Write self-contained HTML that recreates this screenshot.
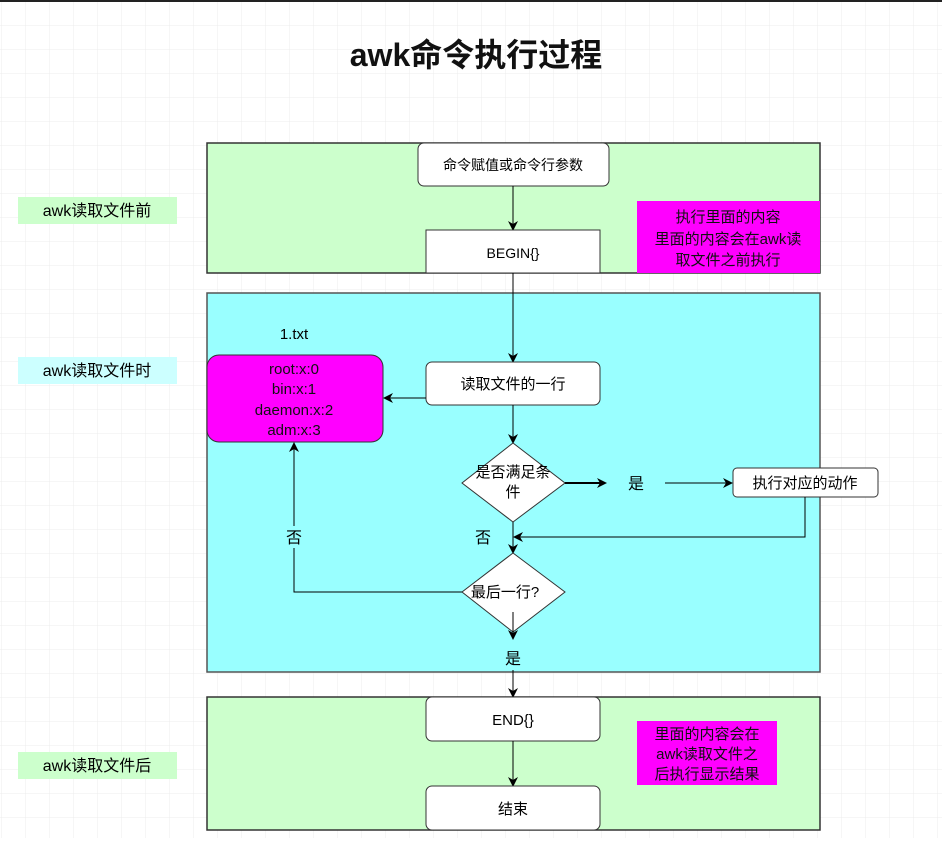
<!DOCTYPE html>
<html><head><meta charset="utf-8"><style>
body{margin:0;width:942px;height:838px;overflow:hidden;background:#fff;}
svg text{font-family:"Liberation Sans","Noto Sans CJK SC",sans-serif;}
</style></head><body>
<svg width="942" height="838" viewBox="0 0 942 838" xmlns="http://www.w3.org/2000/svg">
<defs>
<pattern id="g" width="24" height="24" patternUnits="userSpaceOnUse" x="1" y="1">
<path d="M24 0H0V24" fill="none" stroke="#ececec" stroke-width="1"/>
</pattern>
<marker id="a" markerWidth="10" markerHeight="10" refX="8" refY="5" orient="auto" markerUnits="userSpaceOnUse">
<path d="M0,0 L10,5 L0,10 L3,5 Z" fill="#000"/>
</marker>
</defs>
<rect width="942" height="838" fill="url(#g)"/>
<rect x="0" y="0" width="942" height="2" fill="#222"/>
<text x="476" y="66" font-size="32" font-weight="bold" text-anchor="middle" fill="#111">awk命令执行过程</text>

<rect x="18" y="197" width="159" height="27" fill="#ccffcc"/>
<text x="97" y="216" font-size="16" text-anchor="middle">awk读取文件前</text>
<rect x="18" y="357" width="159" height="27" fill="#ccffff"/>
<text x="97" y="376" font-size="16" text-anchor="middle">awk读取文件时</text>
<rect x="18" y="752" width="159" height="27" fill="#ccffcc"/>
<text x="97" y="771" font-size="16" text-anchor="middle">awk读取文件后</text>

<rect x="207" y="143" width="613" height="130" fill="#ccffcc" stroke="#333" stroke-width="1.5"/>
<rect x="207" y="293" width="613" height="379" fill="#99ffff" stroke="#555" stroke-width="1.5"/>
<rect x="207" y="697" width="613" height="133" fill="#ccffcc" stroke="#333" stroke-width="1.5"/>

<rect x="418" y="143" width="191" height="43" rx="6" fill="#fff" stroke="#333"/>
<text x="513" y="170" font-size="14" text-anchor="middle">命令赋值或命令行参数</text>
<line x1="513" y1="186" x2="513" y2="229" stroke="#000" marker-end="url(#a)"/>
<rect x="426" y="230" width="174" height="43" fill="#fff" stroke="#333"/>
<text x="513" y="258" font-size="14" text-anchor="middle">BEGIN{}</text>
<rect x="637" y="201" width="183" height="72" fill="#ff00ff"/>
<text font-size="15" text-anchor="middle" fill="#111"><tspan x="728" y="222">执行里面的内容</tspan><tspan x="728" y="244">里面的内容会在awk读</tspan><tspan x="728" y="265">取文件之前执行</tspan></text>

<line x1="513" y1="273" x2="513" y2="361" stroke="#000" marker-end="url(#a)"/>
<text x="294" y="339" font-size="15" text-anchor="middle">1.txt</text>
<rect x="207" y="355" width="176" height="87" rx="12" fill="#ff00ff" stroke="#333"/>
<text font-size="15" text-anchor="middle" fill="#111"><tspan x="294" y="374">root:x:0</tspan><tspan x="294" y="394">bin:x:1</tspan><tspan x="294" y="415">daemon:x:2</tspan><tspan x="294" y="435">adm:x:3</tspan></text>
<rect x="426" y="362" width="174" height="43" rx="6" fill="#fff" stroke="#333"/>
<text x="513" y="389" font-size="15" text-anchor="middle">读取文件的一行</text>
<line x1="426" y1="398" x2="385" y2="398" stroke="#000" marker-end="url(#a)"/>
<line x1="513" y1="405" x2="513" y2="442" stroke="#000" marker-end="url(#a)"/>

<polygon points="513,443 565,483 513,522 462,483" fill="#fff" stroke="#333"/>
<text font-size="15" text-anchor="middle"><tspan x="513" y="477">是否满足条</tspan><tspan x="513" y="497">件</tspan></text>
<line x1="565" y1="483" x2="605" y2="483" stroke="#000" stroke-width="2" marker-end="url(#a)"/>
<text x="636" y="489" font-size="16" text-anchor="middle">是</text>
<line x1="665" y1="483" x2="731" y2="483" stroke="#000" marker-end="url(#a)"/>
<rect x="733" y="468" width="145" height="29" rx="4" fill="#fff" stroke="#333"/>
<text x="805" y="488" font-size="15" text-anchor="middle">执行对应的动作</text>
<polyline points="805,497 805,537 515,537" fill="none" stroke="#000" marker-end="url(#a)"/>
<text x="483" y="543" font-size="16" text-anchor="middle">否</text>
<line x1="513" y1="522" x2="513" y2="552" stroke="#000" marker-end="url(#a)"/>

<polygon points="513,553 565,592 513,632 462,592" fill="#fff" stroke="#333"/>
<text x="505" y="597" font-size="15" text-anchor="middle">最后一行?</text>
<polyline points="462,592 294,592 294,444" fill="none" stroke="#000" marker-end="url(#a)"/>
<rect x="284" y="526" width="20" height="22" fill="#99ffff"/>
<text x="294" y="543" font-size="16" text-anchor="middle">否</text>
<line x1="513" y1="612" x2="513" y2="638" stroke="#000" marker-end="url(#a)"/>
<text x="513" y="664" font-size="16" text-anchor="middle">是</text>
<line x1="513" y1="670" x2="513" y2="696" stroke="#000" marker-end="url(#a)"/>

<rect x="426" y="697" width="174" height="44" rx="6" fill="#fff" stroke="#333"/>
<text x="513" y="725" font-size="15" text-anchor="middle">END{}</text>
<line x1="513" y1="741" x2="513" y2="785" stroke="#000" marker-end="url(#a)"/>
<rect x="426" y="786" width="174" height="44" rx="6" fill="#fff" stroke="#333"/>
<text x="513" y="814" font-size="15" text-anchor="middle">结束</text>
<rect x="637" y="721" width="140" height="64" fill="#ff00ff"/>
<text font-size="15" text-anchor="middle" fill="#111"><tspan x="707" y="739">里面的内容会在</tspan><tspan x="707" y="759">awk读取文件之</tspan><tspan x="707" y="779">后执行显示结果</tspan></text>
</svg>
</body></html>
